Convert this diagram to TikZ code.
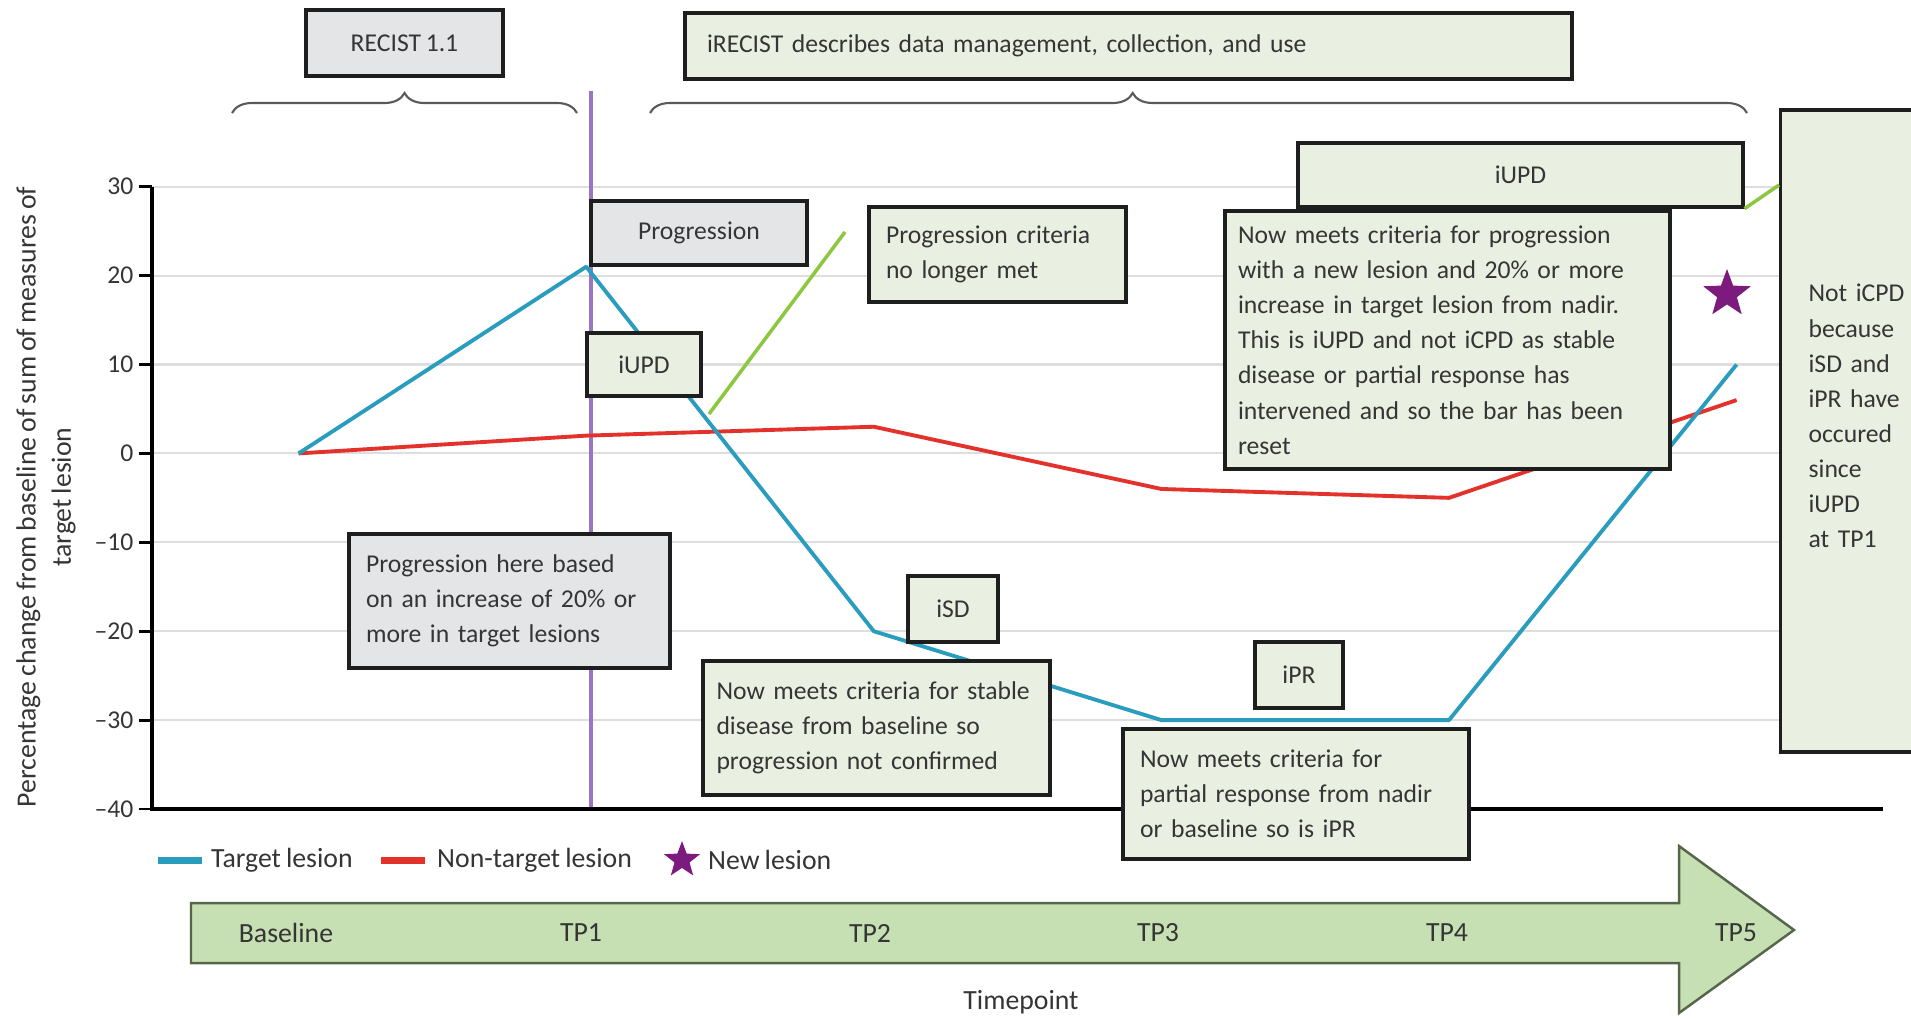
\documentclass[tikz,border=0pt]{standalone}
\usepackage{fontspec}
\setmainfont{Carlito}[WordSpace=0.8]
\usetikzlibrary{decorations.pathreplacing,shapes.geometric}

\definecolor{boxgreen}{HTML}{E9F0E1}
\definecolor{boxgray}{HTML}{E4E5E7}
\definecolor{boxline}{HTML}{1E1E1E}
\definecolor{textgray}{HTML}{353535}
\definecolor{gridgray}{HTML}{DEDEDE}
\definecolor{targetblue}{HTML}{2A9DBE}
\definecolor{nontargetred}{HTML}{E2322B}
\definecolor{linkgreen}{HTML}{8DC63F}
\definecolor{tpviolet}{HTML}{9B74C6}
\definecolor{starpurple}{HTML}{7D1A7D}
\definecolor{arrowgreen}{HTML}{C6DFB3}
\definecolor{arrowline}{HTML}{56664B}

\begin{document}
\begin{tikzpicture}[
  font=\fontsize{7.3}{10}\selectfont,
  gbox/.style={draw=boxline, line width=0.9pt, fill=boxgreen, inner sep=0pt, text=textgray},
  graybox/.style={gbox, fill=boxgray},
  gridline/.style={draw=gridgray, line width=0.6pt},
  targetline/.style={draw=targetblue, line width=1.1pt, line join=round},
  nontargetline/.style={draw=nontargetred, line width=1.1pt, line join=round},
  linkline/.style={draw=linkgreen, line width=1pt},
  curly/.style={decorate, decoration={brace, amplitude=0.2cm, aspect=#1}, draw=black!65, line width=0.6pt},
  curly/.default=0.5,
  newstar/.style={star, star points=5, star point ratio=2.4, fill=starpurple, inner sep=0pt, minimum size=#1},
  lbl/.style={text=textgray, inner sep=1pt},
  biglbl/.style={lbl, font=\fontsize{7.9}{10}\selectfont}
]
  \useasboundingbox (0,0) rectangle (19.11,-10.18);

  % Chart: x = timepoint, y = percentage change
  \begin{scope}[shift={(2.986,-4.534)}, x=2.876cm, y=0.0889cm]
    \foreach \v/\lab in {30/30,20/20,10/10,0/0,-10/--10,-20/--20,-30/--30,-40/--40} {
      \draw[gridline] (-0.51,\v) -- (5.51,\v);
      \draw[line width=0.8pt] (-0.555,\v) -- (-0.51,\v);
      \node[lbl, anchor=east] (tick\v) at (-0.56,\v) {\lab};
    }
    % TP1 marker
    \draw[tpviolet, line width=1pt] (1.017,40.8) -- (1.017,-40);
    % axes
    \draw[line width=0.9pt] (-0.51,30) -- (-0.51,-40) -- (5.51,-40);

    % data points
    \foreach \i/\v in {0/0,1/21,2/-20,3/-30,4/-30,5/10}
      \coordinate (t\i) at (\i,\v);
    \foreach \i/\v in {0/0,1/2,2/3,3/-4,4/-5,5/6}
      \coordinate (n\i) at (\i,\v);
    \draw[nontargetline] (n0) -- (n1) -- (n2) -- (n3) -- (n4) -- (n5);
    \draw[targetline] (t0) -- (t1) -- (t2) -- (t3) -- (t4) -- (t5);
  \end{scope}

  \node[biglbl, rotate=90, align=center] (ylabel) at (0.46,-4.97)
    {Percentage change from baseline of sum of measures of\\target lesion};

  % Braces and headers
  \draw[curly] (2.32,-1.13) -- (5.77,-1.13);
  \draw[curly=0.44] (6.50,-1.13) -- (17.47,-1.13);
  \node[graybox, minimum width=1.97cm, minimum height=0.66cm] (recist) at (4.045,-0.43) {RECIST 1.1};
  \node[gbox, minimum width=8.87cm, minimum height=0.66cm, text width=8.43cm, align=left] (irecist) at (11.285,-0.46)
    {iRECIST describes data management, collection, and use};

  % Connectors
  \coordinate (gA) at (7.09,-4.14);
  \coordinate (gB) at (8.45,-2.32);
  \draw[linkline] (gA) -- (gB);

  % Annotation boxes
  \node[graybox, minimum width=2.16cm, minimum height=0.64cm] (prog) at (6.99,-2.33) {Progression};
  \node[gbox, minimum width=1.14cm, minimum height=0.63cm] (iupdA) at (6.44,-3.645) {iUPD};
  \node[gbox, minimum width=2.57cm, minimum height=0.95cm, text width=2.23cm, align=left] (nolonger) at (9.975,-2.545)
    {Progression criteria\\no longer met};
  \node[gbox, minimum width=4.45cm, minimum height=0.64cm] (iupdB) at (15.205,-1.75) {iUPD};
  \node[gbox, minimum width=4.45cm, minimum height=2.58cm, text width=4.19cm, align=left] (nowprog) at (14.475,-3.40)
    {Now meets criteria for progression\\with a new lesion and 20\% or more\\increase in target lesion from nadir.\\This is iUPD and not iCPD as stable\\disease or partial response has\\intervened and so the bar has been\\reset};
  \node[gbox, anchor=west, minimum width=1.8cm, minimum height=6.42cm, text width=1.24cm, align=left] (notcpd) at (17.79,-4.31)
    {Not iCPD\\because\\iSD and\\iPR have\\occured\\since\\iUPD\\at TP1\\[-1.5pt]\mbox{}};
  \draw[linkline] (iupdB.south east) -- (notcpd.west |- 0,-1.85);
  \node[graybox, minimum width=3.21cm, minimum height=1.34cm, text width=2.87cm, align=left] (basedon) at (5.095,-6.01)
    {Progression here based\\on an increase of 20\% or\\more in target lesions};
  \node[gbox, minimum width=0.9cm, minimum height=0.66cm] (isd) at (9.53,-6.09) {iSD};
  \node[gbox, minimum width=3.47cm, minimum height=1.34cm, text width=3.2cm, align=left] (stable) at (8.765,-7.28)
    {Now meets criteria for stable\\disease from baseline so\\progression not confirmed};
  \node[gbox, minimum width=0.88cm, minimum height=0.66cm] (ipr) at (12.99,-6.75) {iPR};
  \node[gbox, minimum width=3.46cm, minimum height=1.30cm, text width=3.12cm, align=left] (partial) at (12.96,-7.94)
    {Now meets criteria for\\partial response from nadir\\or baseline so is iPR};

  % New lesion
  \node[newstar=0.5cm] (newlesion) at (17.27,-2.94) {};

  % Legend
  \draw[targetblue, line width=2pt] (1.58,-8.60) -- (2.02,-8.60);
  \node[biglbl, anchor=west] (legtarget) at (2.07,-8.60) {Target lesion};
  \draw[nontargetred, line width=2pt] (3.81,-8.60) -- (4.25,-8.60);
  \node[biglbl, anchor=west] (legnontarget) at (4.33,-8.60) {Non-target lesion};
  \node[newstar=0.38cm] (legstar) at (6.82,-8.60) {};
  \node[biglbl, anchor=west] (legnew) at (7.04,-8.60) {New lesion};

  % Timepoint arrow
  \draw[fill=arrowgreen, draw=arrowline, line width=0.7pt, line join=miter]
    (1.91,-9.03) -- (16.79,-9.03) -- (16.79,-8.46) -- (17.94,-9.30)
    -- (16.79,-10.13) -- (16.79,-9.63) -- (1.91,-9.63) -- cycle;
  \foreach \lab/\x in {Baseline/2.86, TP1/5.81, TP2/8.70, TP3/11.58, TP4/14.47, TP5/17.36}
    \node[biglbl] (lb\lab) at (\x,-9.33) {\lab};
  \node[biglbl] (timepoint) at (10.21,-10.02) {Timepoint};
\end{tikzpicture}
\end{document}
